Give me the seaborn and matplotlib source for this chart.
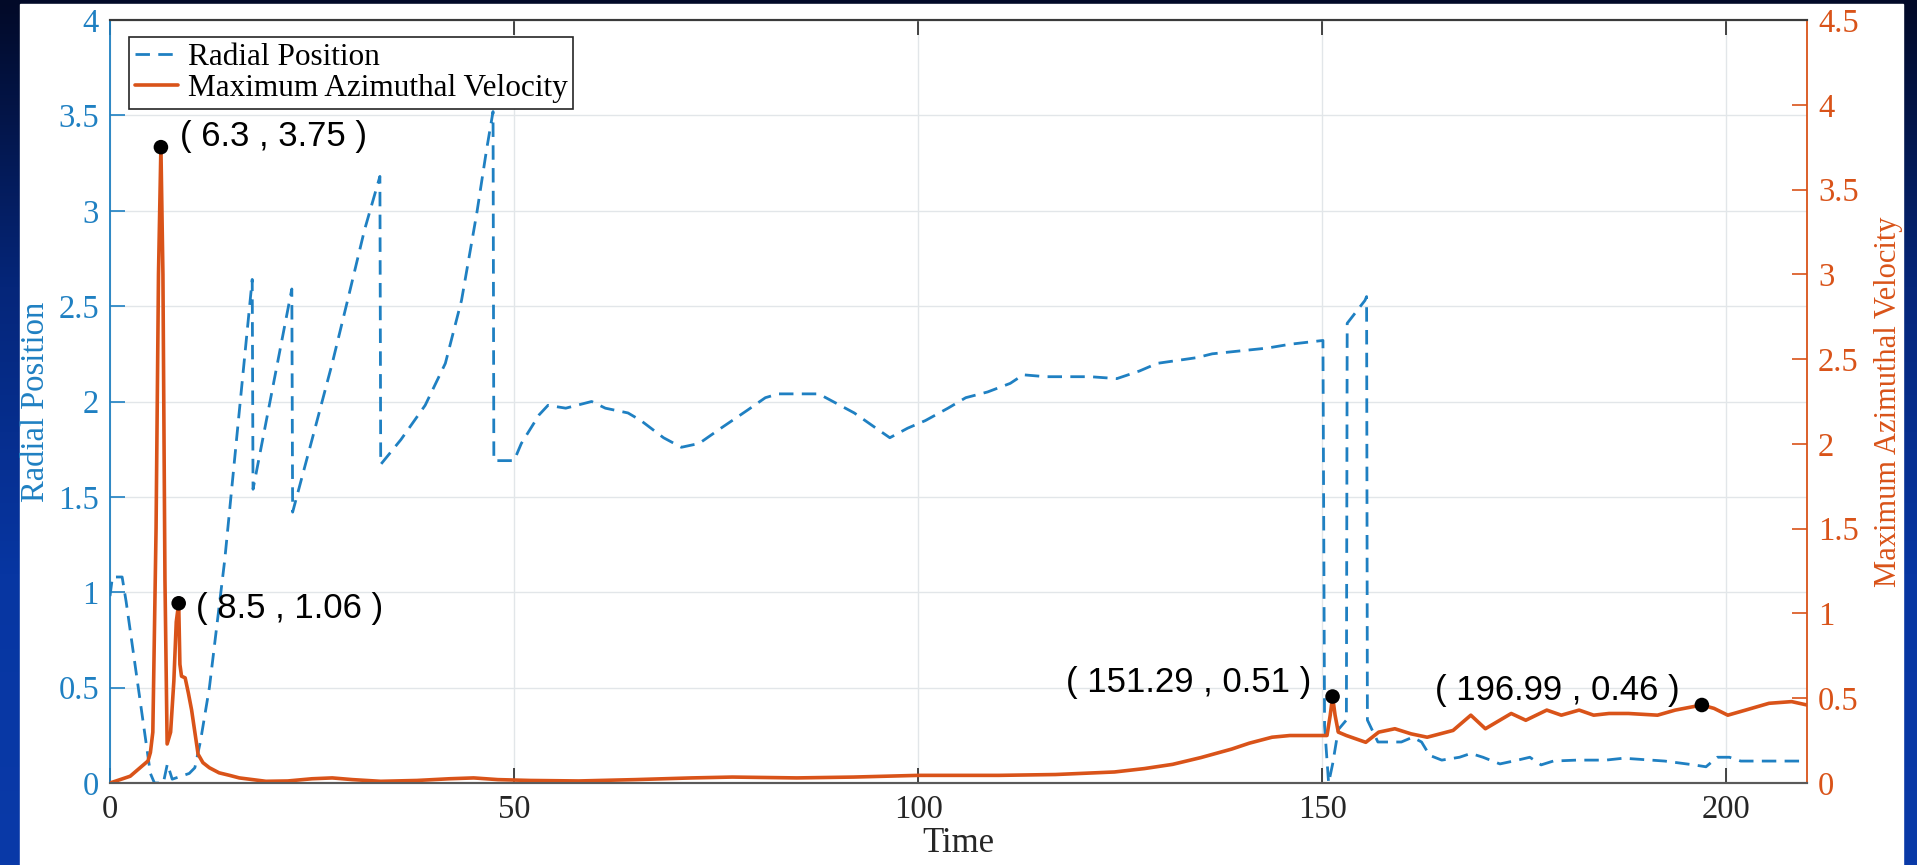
import numpy as np
import matplotlib
matplotlib.use("Agg")
import matplotlib.pyplot as plt
from matplotlib.colors import LinearSegmentedColormap
from matplotlib.patches import Rectangle
from matplotlib.ticker import FuncFormatter
import seaborn as sns

# ---------------- data ----------------
time_radial = [0, 0.3, 1.5, 2.0, 3.0, 4.0, 5.0, 5.5, 6.6, 7.1, 7.7, 9.8, 10.5, 11.2,
               12.3, 14.2, 17.6, 17.7, 22.5, 22.6, 25.0, 27.5, 29.4, 31.5, 33.4, 33.5,
               36.0, 39.0, 41.5, 43.5, 45.4, 46.6, 47.4, 47.5, 50.0, 50.9, 53.1, 54.2,
               56.4, 59.6, 61.3, 64.1, 65.7, 68.5, 70.7, 72.9, 75.6, 78.9, 81.1, 82.7,
               87.7, 89.9, 92.1, 94.8, 96.5, 98.7, 100.9, 103.7, 105.9, 108.6, 111.4,
               113.0, 115.8, 121.3, 124.6, 127.4, 129.6, 134.5, 136.4, 143.2, 146.0,
               150.1, 150.3, 150.8, 151.3, 152.0, 153.0, 153.1, 155.3, 155.5, 155.6,
               156.9, 159.8, 161.2, 162.3, 163.3, 164.8, 167.0, 168.4, 169.9, 172.0,
               174.2, 175.7, 177.1, 178.6, 181.5, 185.1, 187.3, 192.4, 196.0, 197.5,
               198.9, 200.4, 201.8, 210.0]
radial_position = [0.98, 1.08, 1.08, 0.95, 0.65, 0.35, 0.05, 0.0, 0.0, 0.10, 0.02, 0.05,
                   0.08, 0.22, 0.50, 1.17, 2.64, 1.54, 2.59, 1.42, 1.80, 2.20, 2.53, 2.90,
                   3.18, 1.67, 1.80, 1.98, 2.20, 2.53, 2.99, 3.32, 3.52, 1.69, 1.69, 1.78,
                   1.93, 1.98, 1.965, 2.0, 1.965, 1.94, 1.90, 1.81, 1.76, 1.78, 1.86, 1.955,
                   2.02, 2.04, 2.04, 1.99, 1.94, 1.86, 1.81, 1.86, 1.90, 1.965, 2.02, 2.05,
                   2.095, 2.14, 2.13, 2.13, 2.12, 2.16, 2.20, 2.23, 2.25, 2.28, 2.30,
                   2.32, 0.30, 0.0, 0.10, 0.28, 0.33, 2.41, 2.53, 2.55, 0.33,
                   0.215, 0.215, 0.24, 0.215, 0.145, 0.12, 0.135, 0.155, 0.135, 0.10,
                   0.12, 0.135, 0.095, 0.115, 0.12, 0.12, 0.13, 0.115, 0.095, 0.085,
                   0.135, 0.135, 0.115, 0.115]

time_velocity = [0, 2.5, 4.7, 5.0, 5.3, 5.7, 6.0, 6.3, 6.55, 6.8, 7.07, 7.5, 7.9, 8.2,
                 8.5, 8.65, 8.85, 9.3, 9.7, 10.1, 10.5, 10.9, 11.5, 12.3, 13.5, 14.8,
                 16.0, 19.3, 22.0, 25.0, 27.5, 30.0, 33.5, 38.0, 42.0, 45.0, 48.0, 52.0,
                 58.0, 65.0, 72.0, 77.0, 85.0, 92.0, 100.0, 110.0, 117.0, 124.3, 128.0,
                 131.5, 135.0, 138.8, 141.0, 143.8, 146.0, 150.6, 151.0, 151.29, 151.6,
                 152.0, 153.0, 155.4, 157.0, 159.0, 161.0, 163.0, 166.2, 168.4, 170.2,
                 173.4, 175.2, 177.8, 179.6, 181.8, 183.6, 185.5, 187.9, 191.5, 193.7,
                 196.99, 198.5, 200.2, 202.4, 205.3, 208.1, 210.0]
max_az_velocity = [0.0, 0.04, 0.13, 0.18, 0.30, 1.5, 3.0, 3.75, 3.0, 1.2, 0.23, 0.30,
                   0.60, 0.95, 1.06, 0.70, 0.63, 0.62, 0.53, 0.43, 0.30, 0.17, 0.12, 0.09,
                   0.06, 0.045, 0.03, 0.01, 0.012, 0.025, 0.03, 0.02, 0.01, 0.015, 0.025,
                   0.03, 0.02, 0.015, 0.012, 0.02, 0.03, 0.035, 0.03, 0.035, 0.045, 0.045,
                   0.05, 0.065, 0.085, 0.11, 0.15, 0.20, 0.235, 0.27, 0.28, 0.28, 0.40,
                   0.51, 0.40, 0.30, 0.28, 0.24, 0.30, 0.32, 0.29, 0.27, 0.31, 0.40, 0.32,
                   0.41, 0.37, 0.43, 0.40, 0.43, 0.40, 0.41, 0.41, 0.40, 0.43, 0.46, 0.44,
                   0.40, 0.43, 0.47, 0.48, 0.46]

peak_time = [6.3, 8.5, 151.29, 196.99]
peak_velocity = [3.75, 1.06, 0.51, 0.46]
peak_labels = ["( 6.3 , 3.75 )", "( 8.5 , 1.06 )", "( 151.29 , 0.51 )", "( 196.99 , 0.46 )"]
label_x = [8.7, 10.6, 148.6, 194.2]
label_y = [3.81, 1.03, 0.595, 0.547]
label_ha = ["left", "left", "right", "right"]

x_ticks = [0, 50, 100, 150, 200]
left_ticks = [0, 0.5, 1, 1.5, 2, 2.5, 3, 3.5, 4]
right_ticks = [0, 0.5, 1, 1.5, 2, 2.5, 3, 3.5, 4, 4.5]
series_names = ["Radial Position", "Maximum Azimuthal Velocity"]

# ---------------- style ----------------
BLUE = "#1f80c2"
ORANGE = "#D95319"
DARK = "#262626"

sns.set_theme(style="white")
plt.rcParams['font.family'] = ['Liberation Serif', 'DejaVu Serif']

W, H = 1917, 865
fig = plt.figure(figsize=(W / 100, H / 100), dpi=100)

# slide-like dark blue background with white panel
bg = fig.add_axes([0, 0, 1, 1], zorder=-10)
cmap = LinearSegmentedColormap.from_list("bgblue", ["#020a28", "#05267a", "#0736a2", "#0a3aa8"])
grad = np.linspace(0, 1, 256)[:, None] * np.ones((1, 8))
bg.imshow(grad, aspect="auto", cmap=cmap, extent=[0, 1, 0, 1], origin="upper")
bg.add_patch(Rectangle((20 / W, 0), (1903 - 20) / W, (H - 4) / H,
                       transform=bg.transAxes, color="white", zorder=2))
bg.set_xlim(0, 1)
bg.set_ylim(0, 1)
bg.axis("off")

ax = fig.add_axes([110 / W, 1 - 783 / H, 1697 / W, 763 / H])
ax.set_facecolor("white")

sns.lineplot(x=time_radial, y=radial_position, ax=ax, color=BLUE, linewidth=2.0,
             linestyle=(0, (5.2, 3.0)), estimator=None, sort=False, legend=False)

ax2 = ax.twinx()
sns.lineplot(x=time_velocity, y=max_az_velocity, ax=ax2, color=ORANGE, linewidth=2.6,
             estimator=None, sort=False, legend=False)
sns.scatterplot(x=peak_time, y=peak_velocity, ax=ax2, color="black", s=110,
                edgecolor="none", zorder=5, legend=False)

for tx, ty, txt, ha in zip(label_x, label_y, peak_labels, label_ha):
    ax2.text(tx, ty, txt, ha=ha, va="center", fontsize=25, color="black",
             family=["Liberation Sans", "DejaVu Sans"], zorder=6)

ax.set_xlim(0, 210)
ax.set_ylim(0, 4)
ax2.set_ylim(0, 4.5)
ax.set_xticks(x_ticks)
ax.set_yticks(left_ticks)
ax2.set_yticks(right_ticks)
fmt = FuncFormatter(lambda v, p: f"{v:g}")
ax.xaxis.set_major_formatter(fmt)
ax.yaxis.set_major_formatter(fmt)
ax2.yaxis.set_major_formatter(fmt)

ax.grid(True, color="#e2e6e9", linewidth=1.0)
ax.set_axisbelow(True)
ax2.grid(False)

ax.tick_params(axis="x", direction="in", length=11, width=1.2, colors=DARK,
               labelsize=23.5, pad=8, top=True, bottom=True)
ax.tick_params(axis="y", direction="in", length=11, width=1.2, colors=BLUE,
               labelsize=23.5, pad=8, left=True, right=False)
ax2.tick_params(axis="y", direction="in", length=11, width=1.2, colors=ORANGE,
                labelsize=23.5, pad=8, right=True, left=False)
ax2.tick_params(axis="x", bottom=False, top=False)

for a in (ax, ax2):
    a.spines["top"].set_color("#3a3a3a")
    a.spines["bottom"].set_color("#5a5a5a")
    a.spines["top"].set_linewidth(1.5)
    a.spines["bottom"].set_linewidth(1.5)
ax.spines["left"].set_color(BLUE)
ax.spines["left"].set_linewidth(1.3)
ax2.spines["left"].set_visible(False)
ax.spines["right"].set_visible(False)
ax2.spines["right"].set_color(ORANGE)
ax2.spines["right"].set_linewidth(1.3)

ax.set_xlabel("Time", fontsize=25, color=DARK, labelpad=2)
ax.set_ylabel("Radial Position", fontsize=23.5, color=BLUE, labelpad=5)
ax2.set_ylabel("Maximum Azimuthal Velocity", fontsize=22, color=ORANGE, labelpad=11)

handles = [ax.get_lines()[0], ax2.get_lines()[0]]
leg = ax2.legend(handles, series_names, loc="upper left",
                 bbox_to_anchor=(19 / 1697, 1 - 17 / 763), borderaxespad=0,
                 frameon=True, fancybox=False, framealpha=1, edgecolor=DARK,
                 prop={"family": "Liberation Serif", "size": 22.5},
                 handlelength=1.4, handletextpad=0.3, labelspacing=0.08,
                 borderpad=0.18)
leg.get_frame().set_linewidth(1.2)
for t in leg.get_texts():
    t.set_color("black")

fig.savefig("out.png", dpi=100)
